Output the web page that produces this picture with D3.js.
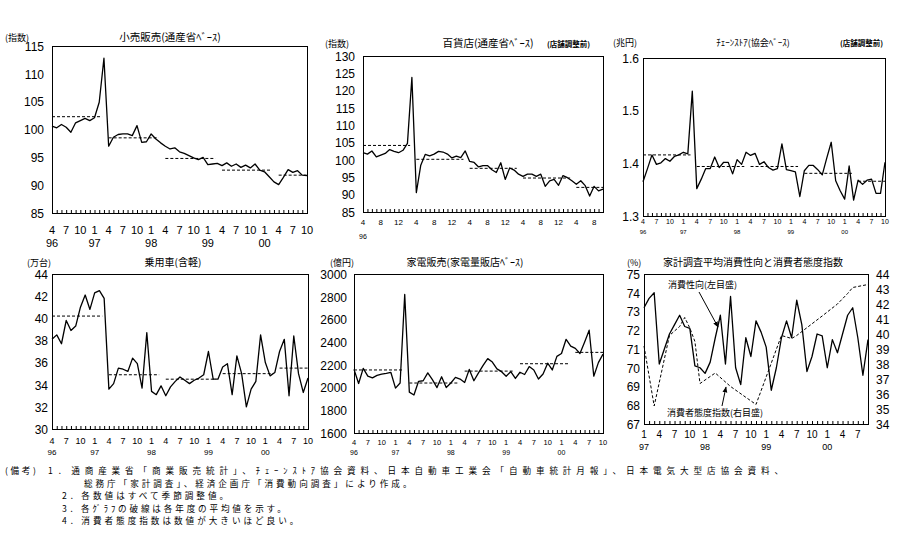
<!DOCTYPE html>
<html><head><meta charset="utf-8">
<script src="https://cdn.jsdelivr.net/npm/d3@7"></script>
<style>
body{margin:0;background:#fff;}
svg{display:block;}
text{font-family:"Liberation Sans",Arial,sans-serif;fill:#000;}
.jp{font-family:"Noto Sans CJK JP",sans-serif;}
</style></head><body>
<svg id="c" width="906" height="549"></svg>
<script>
// ---------- data ----------
const quarterTicks = ["4","7","10","1","4","7","10","1","4","7","10","1","4","7","10","1","4","7","10"];
const fourMonthTicks = ["4","8","12","4","8","12","4","8","12","4","8","12","4","8"];
const yearLabels = ["96","97","98","99","00"];
const ticks6 = ["1","4","7","10","1","4","7","10","1","4","7","10","1","4","7"];
const years6 = ["97","98","99","00"];

// 小売販売 (Apr96–Oct00)
const retail = [100.6,100.3,100.9,100.4,99.5,101.2,101.6,102.0,101.6,102.1,104.9,112.8,
  97.0,98.6,99.1,99.2,99.2,98.9,100.7,97.7,97.8,99.2,98.3,97.6,
  97.0,96.5,96.7,96.0,95.7,95.3,94.9,94.6,95.0,93.7,93.8,93.9,
  93.5,94.0,93.4,93.8,93.2,93.6,93.1,93.8,92.7,92.4,91.5,90.6,
  90.1,91.4,92.8,92.3,92.6,91.8,91.7];
const retailAvg = [102.3,98.5,94.8,92.7,91.8];

// 百貨店
const dept = [102.1,101.7,102.6,100.9,101.4,101.9,103.0,102.5,102.1,102.8,104.8,123.8,
  90.6,98.5,101.6,101.2,101.7,102.5,102.3,101.7,100.6,101.1,100.7,102.6,
  99.6,99.3,98.0,98.4,98.4,97.2,96.4,99.2,94.4,97.7,97.1,95.9,
  95.3,95.9,95.9,95.3,95.9,92.4,94.0,94.4,92.7,95.5,94.9,94.0,
  93.0,94.0,92.6,89.6,92.4,91.1,91.6];
const deptAvg = [104.2,100.2,97.6,94.8,92.1];

// チェーンストア
const chain = [1.365,1.390,1.416,1.398,1.401,1.409,1.404,1.413,1.416,1.421,1.418,1.537,
  1.352,1.370,1.390,1.390,1.412,1.392,1.402,1.402,1.380,1.407,1.398,1.421,
  1.415,1.419,1.398,1.403,1.392,1.387,1.390,1.437,1.388,1.386,1.384,1.337,
  1.386,1.396,1.396,1.388,1.378,1.410,1.440,1.367,1.348,1.332,1.395,1.330,
  1.368,1.360,1.368,1.370,1.343,1.343,1.402];
const chainAvg = [1.416,1.394,1.394,1.381,1.366];

// 乗用車
const cars = [38.1,38.5,37.7,39.8,38.9,39.3,41.0,42.1,40.8,42.3,42.5,41.8,
  33.6,34.1,35.5,35.4,35.2,36.4,35.9,33.7,38.7,33.4,33.1,33.9,
  33.0,33.8,34.3,34.7,34.4,34.1,34.4,34.6,34.9,37.0,34.5,34.5,
  35.6,35.9,33.1,36.6,35.0,32.0,33.6,34.3,38.5,36.0,34.8,35.1,
  37.0,38.1,33.0,38.4,35.0,33.3,34.6];
const carsAvg = [40.2,34.9,34.5,35.0,35.5];

// 家電販売
const appliances = [2160,2036,2169,2101,2086,2107,2119,2125,2133,1995,2040,2820,
  1960,1935,2055,2060,2130,2070,2000,2095,2000,2040,2090,2075,
  2045,2160,2060,2130,2195,2255,2225,2165,2140,2100,2140,2080,
  2135,2115,2185,2155,2075,2120,2215,2155,2275,2300,2425,2365,
  2345,2300,2400,2505,2100,2220,2295];
const appliancesAvg = [2155,2040,2145,2210,2310];

// 平均消費性向 (Jan97–Sep00)
const propensity = [73.2,73.7,74.0,70.2,71.0,71.8,72.3,72.8,72.2,72.1,70.1,70.0,
  69.7,70.3,71.6,72.8,70.2,73.8,70.0,69.1,71.6,70.6,72.5,71.9,
  71.1,68.8,70.0,71.6,72.5,71.6,73.6,72.3,69.8,70.6,71.8,71.7,
  70.0,71.5,70.8,71.8,72.8,73.2,71.6,69.6,71.5];
// 消費者態度指数: [month index from Jan97, value]
const confidence = [[0,39.2],[2,35.2],[5,39.9],[7,40.5],[8,41.1],[9,40.4],[10,39.5],[11,36.7],
  [14,37.4],[17,36.5],[22,35.3],[27,39.9],[29,39.7],[30,39.9],[35,41.2],[38,42.0],[40,42.7],[41,43.1],[44,43.3]];

const notes = [
  "1．通商産業省「商業販売統計」、ﾁｪｰﾝｽﾄｱ協会資料、日本自動車工業会「自動車統計月報」、日本電気大型店協会資料、",
  "総務庁「家計調査」、経済企画庁「消費動向調査」により作成。",
  "2．各数値はすべて季節調整値。",
  "3．各ｸﾞﾗﾌの破線は各年度の平均値を示す。",
  "4．消費者態度指数は数値が大きいほど良い。"
];

// ---------- drawing ----------
const svg = d3.select("#c");
svg.append("rect").attr("width",906).attr("height",549).attr("fill","#fff");

function panel(c){
  const g = svg.append("g");
  const x = d3.scaleLinear().domain([0, c.nX-1]).range([c.x0, c.x1]);
  const y = d3.scaleLinear().domain(c.yDom).range([c.y1, c.y0]);
  g.append("g").attr("transform",`translate(0,${c.y1})`)
    .call(d3.axisBottom(x).tickValues(d3.range(c.nX)).tickSizeInner(-3).tickSizeOuter(0).tickFormat(""))
    .call(a=>a.select(".domain").remove())
    .selectAll("line").attr("stroke","#000").attr("stroke-width",1);
  g.append("rect").attr("x",c.x0+0.5).attr("y",c.y0+0.5).attr("width",c.x1-c.x0).attr("height",c.y1-c.y0)
    .attr("fill","none").attr("stroke","#000").attr("stroke-width",1);
  const ya = g.append("g").attr("transform",`translate(${c.yLabX},0)`)
    .call(d3.axisLeft(y).tickValues(c.yTicks).tickSize(0).tickPadding(0).tickFormat(c.yFmt || d3.format("d")));
  ya.select(".domain").remove();
  ya.selectAll("text").attr("font-size",c.yFont).attr("font-family","Liberation Sans, Arial, sans-serif").attr("dy","0.36em");
  if(c.yTicks2){
    const y2 = d3.scaleLinear().domain(c.yDom2).range([c.y1, c.y0]);
    const yb = g.append("g").attr("transform",`translate(${c.yLabX2},0)`)
      .call(d3.axisRight(y2).tickValues(c.yTicks2).tickSize(0).tickPadding(0).tickFormat(d3.format("d")));
    yb.select(".domain").remove();
    yb.selectAll("text").attr("font-size",c.yFont).attr("font-family","Liberation Sans, Arial, sans-serif").attr("dy","0.36em");
    c.y2 = y2;
  }
  if(c.avg){
    c.avg.forEach((v,k)=>{
      const s = 12*k, e = Math.min(12*k+10.6, c.nX-1);
      g.append("line").attr("x1",x(s)).attr("x2",x(e)).attr("y1",y(v)).attr("y2",y(v))
        .attr("stroke","#000").attr("stroke-width",1).attr("stroke-dasharray","3,2");
    });
  }
  g.append("path").datum(c.data)
    .attr("d", d3.line().x((d,i)=>x(i)).y(d=>y(d)))
    .attr("fill","none").attr("stroke","#000").attr("stroke-width",1.3).attr("stroke-linejoin","round");
  c.xLabels.forEach((t,k)=>{
    g.append("text").attr("x",x(k*c.xStep)).attr("y",c.xLabY).attr("text-anchor","middle")
      .attr("font-size",c.xFont).text(t);
  });
  c.years.forEach((t,k)=>{
    g.append("text").attr("x",x(c.yearIdx(k))).attr("y",c.yearY).attr("text-anchor","middle")
      .attr("font-size",c.yearFont).text(t);
  });
  g.append("text").attr("class","jp").attr("x",c.titleX).attr("y",c.titleY).attr("text-anchor","middle")
    .attr("font-size",c.titleFont).text(c.title);
  g.append("text").attr("class","jp").attr("x",c.unitX).attr("y",c.titleY).attr("font-size",9).text(c.unit);
  if(c.note){
    g.append("text").attr("class","jp").attr("x",c.noteX).attr("y",c.titleY).attr("font-size",7.5)
      .attr("font-weight","bold").text(c.note);
  }
  c.x = x; c.y = y; c.g = g;
  return c;
}

const yr = k => k===0 ? 0 : 9 + 12*(k-1);

panel({data:retail, avg:retailAvg, nX:55, x0:52, x1:307, y0:46, y1:213, yDom:[85,115], yTicks:d3.range(85,116,5),
  yLabX:44, yFont:12, xLabels:quarterTicks, xStep:3, xLabY:234, xFont:11, years:yearLabels, yearIdx:yr, yearY:247, yearFont:11,
  title:"小売販売(通産省ﾍﾞｰｽ)", titleX:170, titleY:41, titleFont:10.5, unit:"(指数)", unitX:5});

panel({data:dept, avg:deptAvg, nX:55, x0:363, x1:603, y0:56, y1:212, yDom:[85,130], yTicks:d3.range(85,131,5),
  yLabX:355, yFont:12, xLabels:fourMonthTicks, xStep:4, xLabY:225, xFont:8, years:["96"], yearIdx:yr, yearY:239, yearFont:7,
  title:"百貨店(通産省ﾍﾞｰｽ)", titleX:488, titleY:47, titleFont:10.5, unit:"(指数)", unitX:325, note:"(店舗調整前)", noteX:547});

panel({data:chain, avg:chainAvg, nX:55, x0:643, x1:885, y0:58, y1:216, yDom:[1.3,1.6], yTicks:[1.3,1.4,1.5,1.6],
  yFmt:d3.format(".1f"), yLabX:639, yFont:12, xLabels:quarterTicks, xStep:3, xLabY:224, xFont:7, years:yearLabels, yearIdx:yr, yearY:234, yearFont:6,
  title:"ﾁｪｰﾝｽﾄｱ(協会ﾍﾞｰｽ)", titleX:753, titleY:46, titleFont:9, unit:"(兆円)", unitX:613, note:"(店舗調整前)", noteX:840});

panel({data:cars, avg:carsAvg, nX:55, x0:52, x1:308, y0:274, y1:429, yDom:[30,44], yTicks:d3.range(30,45,2),
  yLabX:48, yFont:12, xLabels:quarterTicks, xStep:3, xLabY:444, xFont:9, years:yearLabels, yearIdx:yr, yearY:455, yearFont:8,
  title:"乗用車(含軽)", titleX:173, titleY:266, titleFont:10, unit:"(万台)", unitX:27});

panel({data:appliances, avg:appliancesAvg, nX:55, x0:354, x1:603, y0:274, y1:433, yDom:[1600,3000], yTicks:d3.range(1600,3001,200),
  yLabX:347, yFont:12, xLabels:quarterTicks, xStep:3, xLabY:444.5, xFont:7.5, years:yearLabels, yearIdx:yr, yearY:455, yearFont:7,
  title:"家電販売(家電量販店ﾍﾞｰｽ)", titleX:465, titleY:266, titleFont:10, unit:"(億円)", unitX:330});

const p6 = panel({data:propensity, nX:45, x0:644, x1:868, y0:274, y1:424, yDom:[67,75], yTicks:d3.range(67,76,1),
  yDom2:[34,44], yTicks2:d3.range(34,45,1), yLabX2:876,
  yLabX:640, yFont:12, xLabels:ticks6, xStep:3, xLabY:437.5, xFont:10, years:years6, yearIdx:k=>12*k, yearY:449.5, yearFont:9,
  title:"家計調査平均消費性向と消費者態度指数", titleX:753, titleY:266, titleFont:10, unit:"(%)", unitX:627});

p6.g.append("path").datum(confidence)
  .attr("d", d3.line().x(d=>p6.x(d[0])).y(d=>p6.y2(d[1])))
  .attr("fill","none").attr("stroke","#000").attr("stroke-width",1).attr("stroke-dasharray","3,2");

const defs = svg.append("defs");
defs.append("marker").attr("id","ah").attr("viewBox","0 0 10 10").attr("refX",9).attr("refY",5)
  .attr("markerWidth",6).attr("markerHeight",6).attr("orient","auto")
  .append("path").attr("d","M0,1L10,5L0,9z").attr("fill","#000");
p6.g.append("text").attr("class","jp").attr("x",668).attr("y",288).attr("font-size",9).text("消費性向(左目盛)");
p6.g.append("line").attr("x1",699).attr("y1",292).attr("x2",718).attr("y2",327)
  .attr("stroke","#000").attr("stroke-width",1).attr("marker-end","url(#ah)");
p6.g.append("text").attr("class","jp").attr("x",667).attr("y",416).attr("font-size",9).text("消費者態度指数(右目盛)");
p6.g.append("line").attr("x1",722).attr("y1",406).attr("x2",726).attr("y2",387)
  .attr("stroke","#000").attr("stroke-width",1).attr("marker-end","url(#ah)");

// notes: measure natural width at 11.5px, draw smaller glyphs stretched to the same width
function noteLine(t, x, y, len){
  const el = svg.append("text").attr("class","jp").attr("x",x).attr("y",y).attr("font-size",11.5).text(t);
  const w = len || el.node().getComputedTextLength();
  el.attr("font-size",8.6).attr("textLength",w).attr("lengthAdjust","spacing");
}
noteLine("(備考)", 5, 474);
noteLine(notes[0], 48, 474, 735);
noteLine(notes[1], 84, 486.5);
noteLine(notes[2], 62, 499);
noteLine(notes[3], 62, 511.5);
noteLine(notes[4], 62, 524);
</script></body></html>
